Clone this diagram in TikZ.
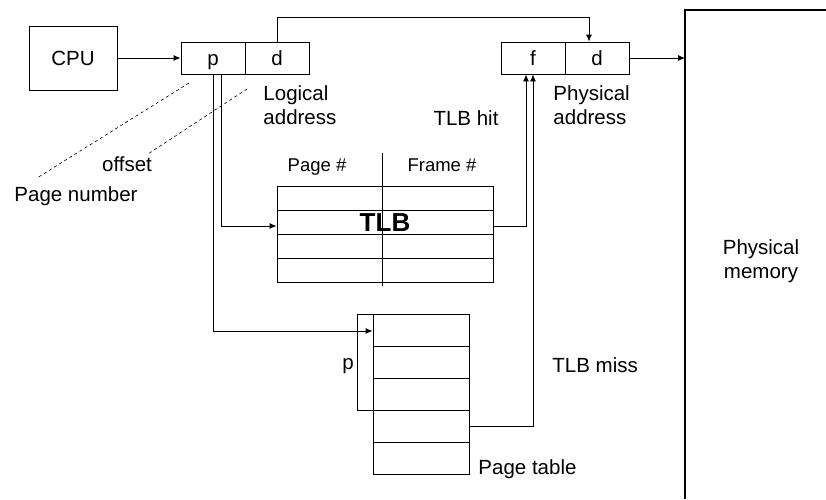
\documentclass[tikz,border=0pt]{standalone}
\usepackage{fontspec}
\setmainfont{Liberation Sans}
\usetikzlibrary{arrows.meta}
\begin{document}
\begin{tikzpicture}[x=1pt,y=-1pt,line width=0.9pt,
  arr/.style={-{Latex[length=7pt,width=6pt]}},
  box/.style={draw,minimum width=64pt,minimum height=32pt,inner sep=0pt,anchor=center,text height=15pt,text depth=1pt,font=\fontsize{20.5}{24}\selectfont},
  lbl/.style={inner sep=0pt,font=\fontsize{20.5}{24}\selectfont},
  hdr/.style={inner sep=0pt,text height=13pt,text depth=4pt,font=\fontsize{18.5}{22}\selectfont},
  dashline/.style={line width=0.6pt,dash pattern=on 3pt off 3pt}]
\useasboundingbox (0,0) rectangle (826,499);
% CPU
\node[draw,minimum width=88pt,minimum height=64pt,inner sep=0pt,font=\fontsize{20.5}{24}\selectfont] (cpu) at (73,58) {CPU};
% logical address
\node[box] (p) at (213,58) {p};
\node[box] (d) at (277,58) {d};
% physical address
\node[box] (f) at (533,58) {f};
\node[box] (d2) at (597,58) {d};
% physical memory
\draw[line width=1.4pt] (830,10) -- (685,10) -- (685,499);
\coordinate (memin) at (685,58);
\node[lbl,align=center] (mem) at (761,261) {Physical\\memory};
% TLB
\node[draw,minimum width=216pt,minimum height=96pt,inner sep=0pt] (tlb) at (385,234) {};
\foreach \yy in {210,234,258} \draw (277,\yy) -- (493,\yy);
\draw (382,153) -- (382,286);
\node[inner sep=0pt,font=\bfseries\fontsize{26}{30}\selectfont] (tlbtxt) at (385,223) {TLB};
\node[hdr] (pagehdr) at (317,167) {Page \#};
\node[hdr] (framehdr) at (442,167) {Frame \#};
% page table
\node[draw,minimum width=96pt,minimum height=160pt,inner sep=0pt] (pt) at (421,394) {};
\foreach \yy in {346,378,410,442} \draw (373,\yy) -- (469,\yy);
\draw (373,314) -- (357,314) -- (357,410) -- (373,410);
\node[lbl] (plbl) at (348,366) {p};
% labels
\node[lbl,align=left,anchor=west] (lalbl) at (263,105) {Logical\\address};
\node[lbl,align=left,anchor=west] (palbl) at (553,105) {Physical\\address};
\node[lbl] (hit) at (466,118) {TLB hit};
\node[lbl,anchor=west] (miss) at (552,365) {TLB miss};
\node[lbl,anchor=west] (ptlbl) at (478,469) {Page table};
\node[lbl] (offs) at (127,164) {offset};
\node[lbl,anchor=west] (pnum) at (14,196) {Page number};
% dashed pointers
\draw[dashline] (189,83) -- (37,178);
\draw[dashline] (247,89) -- (148,154);
% connectors
\draw[arr] (cpu.east) -- (p.west);
\draw[arr] (d.north) -- ++(0,-24) -| ([xshift=-8pt]d2.north);
\draw[arr] (d2.east) -- (memin);
\draw[arr] ([xshift=8pt]p.south) |- ([yshift=8pt]tlb.west);
\draw[arr] (p.south) |- ([yshift=63pt]pt.west);
\draw[arr] ([yshift=8pt]tlb.east) -| ([xshift=-7pt]f.south);
\draw[arr] ([yshift=-32pt]pt.east) -| (f.south);
\end{tikzpicture}
\end{document}
